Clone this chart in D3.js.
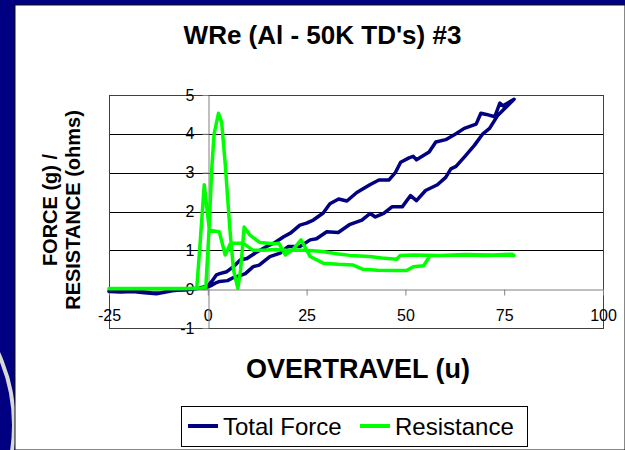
<!DOCTYPE html>
<html>
<head>
<meta charset="utf-8">
<script src="https://cdn.jsdelivr.net/npm/d3@7"></script>
<style>
  body { margin: 0; background: #fff; }
  svg { display: block; font-family: "Liberation Sans", Arial, sans-serif; }
</style>
</head>
<body>
<svg id="chart" width="625" height="450"></svg>
<script>
// axis ticks
var xTicks = [-25, 0, 25, 50, 75, 100];
var yTicks = [-1, 0, 1, 2, 3, 4, 5];
var gridTicks = [1, 2, 3, 4];

var seriesNames = ["Total Force", "Resistance"];
var seriesColors = ["#000080", "#00ff00"];

// Total Force loop: out along the lower branch, back along the upper one
var forceX = [-25, -22, -19, -16, -13, -11, -9, -7, -5, -3, -1, 0, 1, 2.2, 3, 5, 6.5, 8, 9.5, 11.5,
  13, 14.1, 15.7, 18.3, 20.4, 23.3, 25.9, 27.5, 30.1, 33, 36, 39, 41.1, 42.4, 44.5, 46.6, 49.2, 51.3,
  52.8, 55.1, 58.1, 60.2, 61.5, 62.8, 64.9, 67.5, 69.6, 71.3, 73.4, 77.5,
  74.7, 73.9, 72.6, 70.5, 69.1, 67.9, 64.9, 62.8, 60.2, 57.7, 56, 52.8, 52, 50.9, 48.8, 47.5, 45.8,
  43.3, 41, 37.7, 35.2, 33.1, 30.9, 29.2, 26.7, 25, 23.3, 21, 19.2, 17, 14.9, 12, 9.9, 8.2, 6.5, 4.8,
  3, 2.2, 1, 0, -2, -4, -6, -8, -10, -12, -14, -17, -20, -23, -25];
var forceY = [-0.06, -0.07, -0.06, -0.09, -0.12, -0.08, -0.04, -0.02, 0.01, 0.02, 0.04, 0.06, 0.1, 0.17, 0.2, 0.22, 0.3, 0.34, 0.4, 0.58,
  0.62, 0.71, 0.84, 0.93, 1.1, 1.1, 1.27, 1.3, 1.48, 1.46, 1.67, 1.78, 1.95, 1.86, 1.95, 2.12, 2.12, 2.41,
  2.28, 2.54, 2.69, 2.88, 3.1, 3.16, 3.4, 3.71, 4.0, 4.14, 4.48, 4.89,
  4.72, 4.79, 4.44, 4.5, 4.53, 4.25, 4.14, 4.0, 3.85, 3.79, 3.53, 3.33, 3.42, 3.38, 3.27, 3.01, 2.81,
  2.81, 2.69, 2.49, 2.27, 2.32, 2.2, 1.96, 1.78, 1.7, 1.65, 1.45, 1.35, 1.2, 1.1, 0.93, 0.79, 0.75, 0.58, 0.45,
  0.4, 0.37, 0.2, 0.08, 0.03, 0.0, -0.02, -0.03, -0.05, -0.1, -0.1, -0.06, -0.05, -0.06, -0.05];

// Resistance loop
var resX = [-25, -20, -15, -10, -5, -1.5, -0.5, 0.3, 1, 1.6, 2.7, 3.5, 4.4, 5.6, 6.5, 7.6, 8.3, 9.2, 10.6,
  13.2, 16.7, 18, 19.6, 21.7, 23.6, 25.9, 29.2, 33, 36.8, 39.3, 43, 46.9, 50.3, 52, 54.6, 56.2, 58.8,
  65, 70, 75, 77.5,
  77, 72, 65, 58.8, 52, 48.7, 47.8, 44, 41, 36, 32.6, 29, 25, 20, 17, 14, 11.5, 9, 6.5, 5.6, 4.4, 2.9,
  0.4, -0.9, -2, -2.8, -8, -15, -25];
var resY = [0.02, 0.02, 0.02, 0.02, 0.02, 0.03, 0.05, 1.5, 3.1, 4.0, 4.53, 4.3, 3.24, 1.53, 0.5, 0.02, 0.5, 1.6, 1.4,
  1.2, 1.17, 1.18, 0.88, 1.04, 1.27, 0.84, 0.67, 0.64, 0.62, 0.51, 0.49, 0.48, 0.48, 0.58, 0.6, 0.86, 0.87,
  0.88, 0.87, 0.88, 0.87,
  0.9, 0.88, 0.89, 0.87, 0.88, 0.87, 0.77, 0.8, 0.84, 0.87, 0.91, 0.97, 1.0, 1.0, 1.02, 1.0, 1.0, 1.18, 1.18, 1.15, 0.88, 1.48,
  1.52, 2.69, 1.1, 0.02, 0.01, 0.01, 0.01];

var svg = d3.select("#chart");

// slide background
svg.append("rect").attr("width", 625).attr("height", 450).attr("fill", "#000080");
svg.append("circle")
  .attr("cx", -158).attr("cy", 425).attr("r", 172)
  .attr("fill", "none").attr("stroke", "#d9d9d9").attr("stroke-width", 4);
svg.append("rect")
  .attr("x", 15).attr("y", 5).attr("width", 610).attr("height", 445)
  .attr("fill", "#fff").attr("stroke", "#111").attr("stroke-width", 1);

var x = d3.scaleLinear().domain([-25, 100]).range([109, 603]);
var y = d3.scaleLinear().domain([-1, 5]).range([328, 95]);

function crisp(v) { return Math.round(v) + 0.5; }
// plain hyphen for negatives, like the original
function plain(d) { return String(d); }

// gridlines
svg.append("g").selectAll("line")
  .data(gridTicks)
  .enter().append("line")
  .attr("x1", x(-25)).attr("x2", x(100))
  .attr("y1", function(d) { return crisp(y(d)); })
  .attr("y2", function(d) { return crisp(y(d)); })
  .attr("stroke", "#000").attr("stroke-width", 1);

// plot border
svg.append("rect")
  .attr("x", crisp(x(-25))).attr("y", crisp(y(5)))
  .attr("width", Math.round(x(100)) - Math.round(x(-25)))
  .attr("height", Math.round(y(-1)) - Math.round(y(5)))
  .attr("fill", "none").attr("stroke", "#404040").attr("stroke-width", 1);

// axes crossing at zero
var xAxis = svg.append("g")
  .attr("transform", "translate(0," + crisp(y(0)) + ")")
  .call(d3.axisBottom(x).tickValues(xTicks).tickFormat(plain).tickSize(6).tickSizeOuter(0));
xAxis.selectAll("text").attr("y", 20);

var yAxis = svg.append("g")
  .attr("transform", "translate(" + crisp(x(0)) + ",0)")
  .call(d3.axisLeft(y).tickValues(yTicks).tickFormat(plain).tickSize(6).tickSizeOuter(0).tickPadding(8));

xAxis.attr("font-family", null).attr("font-size", null);
yAxis.attr("font-family", null).attr("font-size", null);
svg.selectAll(".domain, .tick line").attr("stroke", "#808080");
svg.selectAll(".tick text")
  .attr("fill", "#000")
  .style("font-size", "16px");

// series
var line = d3.line()
  .x(function(d) { return x(d[0]); })
  .y(function(d) { return y(d[1]); });

var series = [d3.zip(forceX, forceY), d3.zip(resX, resY)];

svg.append("g").selectAll("path")
  .data(series)
  .enter().append("path")
  .attr("d", line)
  .attr("fill", "none")
  .attr("stroke", function(d, i) { return seriesColors[i]; })
  .attr("stroke-width", 3.5)
  .attr("stroke-linejoin", "round")
  .attr("stroke-linecap", "round");

// titles
svg.append("text")
  .attr("x", 322.5).attr("y", 44)
  .attr("text-anchor", "middle")
  .style("font-size", "26px").style("font-weight", "bold")
  .text("WRe (Al - 50K TD's) #3");

svg.append("text")
  .attr("x", 358).attr("y", 378)
  .attr("text-anchor", "middle")
  .style("font-size", "27px").style("font-weight", "bold")
  .text("OVERTRAVEL (u)");

var yTitle = svg.append("g")
  .attr("transform", "translate(57,210) rotate(-90)")
  .style("font-size", "20px").style("font-weight", "bold");
yTitle.append("text").attr("text-anchor", "middle").attr("y", 0).text("FORCE (g) /");
yTitle.append("text").attr("text-anchor", "middle").attr("y", 23).text("RESISTANCE (ohms)");

// legend
svg.append("rect")
  .attr("x", 181.5).attr("y", 406.5).attr("width", 346).attr("height", 40)
  .attr("fill", "#fff").attr("stroke", "#000").attr("stroke-width", 1);

var legendX = [188, 360];
var item = svg.append("g").selectAll("g")
  .data(seriesNames)
  .enter().append("g")
  .attr("transform", function(d, i) { return "translate(" + legendX[i] + ",426)"; });

item.append("line")
  .attr("x1", 0).attr("x2", 30)
  .attr("stroke", function(d, i) { return seriesColors[i]; })
  .attr("stroke-width", 4);

item.append("text")
  .attr("x", 35).attr("y", 8.5)
  .style("font-size", "24px")
  .text(function(d) { return d; });
</script>
</body>
</html>
